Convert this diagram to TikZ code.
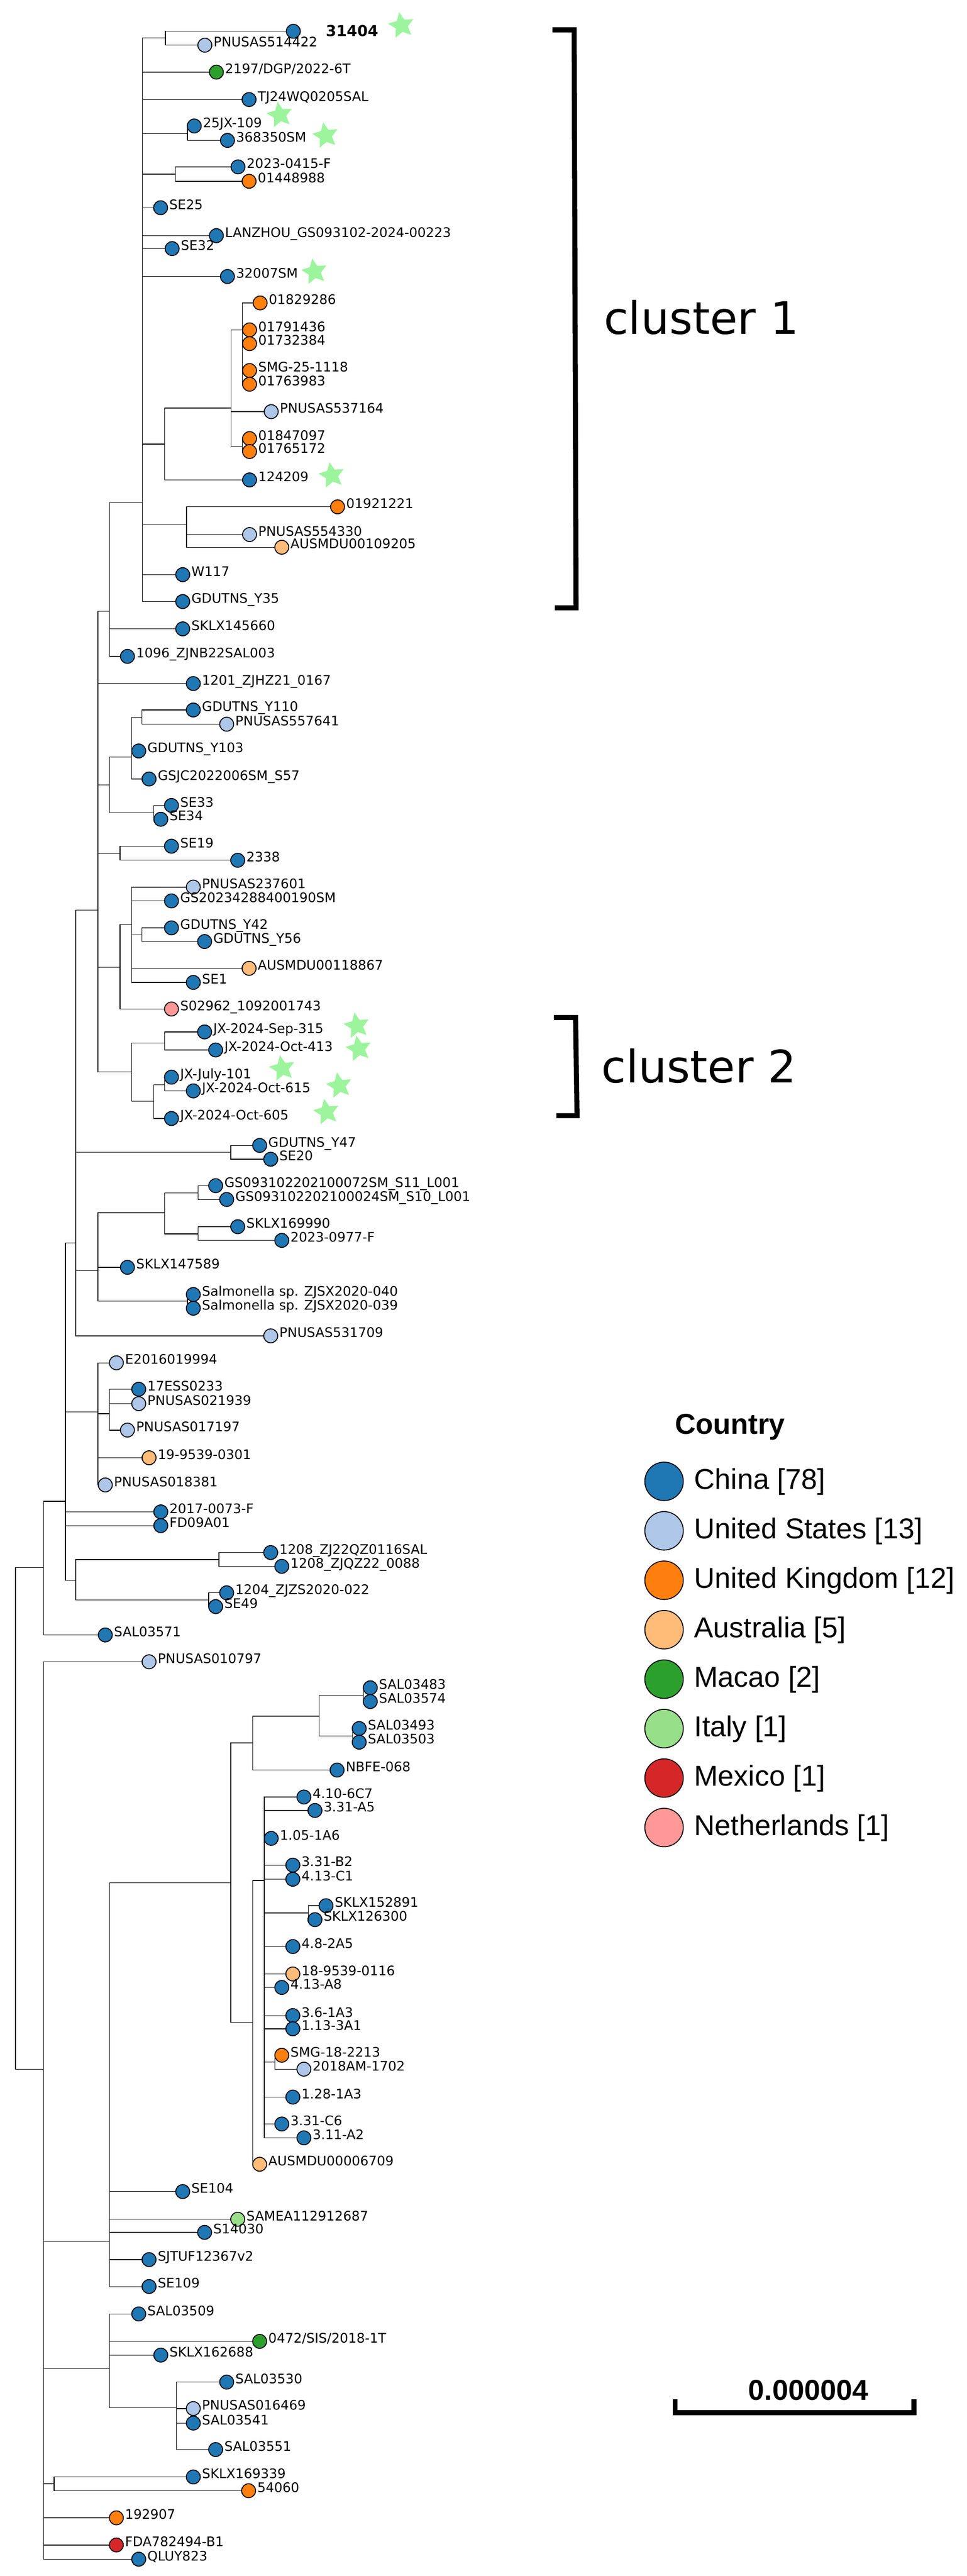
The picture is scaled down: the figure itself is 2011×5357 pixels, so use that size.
\documentclass[tikz,border=0pt]{standalone}
\usepackage{fontspec}
\setmainfont{DejaVu Sans}
\newfontfamily\legfont{Liberation Sans}
\usetikzlibrary{shapes.geometric,backgrounds,positioning}
\definecolor{chinac}{HTML}{1F77B4}
\definecolor{usac}{HTML}{AEC7E8}
\definecolor{ukc}{HTML}{FF7F0E}
\definecolor{ausc}{HTML}{FFBB78}
\definecolor{macaoc}{HTML}{2CA02C}
\definecolor{italyc}{HTML}{98DF8A}
\definecolor{mexicoc}{HTML}{D62728}
\definecolor{nethc}{HTML}{FF9896}
\definecolor{hitc}{HTML}{9CF59C}

\begin{document}
\begin{tikzpicture}[x=0.1mm,y=-0.1mm,
  leaf/.style={circle,draw=black,line width=0.55pt,minimum size=2.9mm,inner sep=0pt},
  cn/.style={leaf,fill=chinac},
  us/.style={leaf,fill=usac},
  uk/.style={leaf,fill=ukc},
  aus/.style={leaf,fill=ausc},
  macao/.style={leaf,fill=macaoc},
  italy/.style={leaf,fill=italyc},
  mexico/.style={leaf,fill=mexicoc},
  neth/.style={leaf,fill=nethc},
  tag/.style={font=\fontsize{7.8}{9}\selectfont,inner sep=0pt,text height=2mm,text depth=0pt,yshift=0.7mm},
  lbl/.style={label={[tag,label distance=0.2mm]0:#1}},
  hit/.style={star,star points=5,star point ratio=2.1,fill=hitc,draw=none,minimum size=5.6mm,inner sep=0pt,rotate=10},
  branch/.style={line width=0.9pt},
  brk/.style={line width=1.05mm},
  legdot/.style={minimum size=8mm},
  legtxt/.style={font=\legfont\fontsize{17}{20}\selectfont,inner sep=0pt,text height=4.3mm,text depth=0pt,yshift=0.55mm},
  big/.style={anchor=base west,inner sep=0pt,font=\fontsize{26.5}{30}\selectfont},
]
\useasboundingbox (0,0) rectangle (2011,5357);

\coordinate (n1) at (296,1045);
\coordinate (n1a) at (344,79);
\coordinate (n1b) at (390,278);
\coordinate (n1c) at (365,362);
\coordinate (n1d) at (342,923.6);
\coordinate (nB) at (480.6,848.5);
\coordinate (nC) at (504,686);
\coordinate (nE) at (504,928);
\coordinate (n1e) at (388,1090);
\coordinate (p2) at (228,1271);
\coordinate (p3) at (203.6,1892.7);
\coordinate (q1) at (228,1632);
\coordinate (q1a) at (274,1574.6);
\coordinate (q1b) at (295.4,1491.8);
\coordinate (q1c) at (320,1690);
\coordinate (q2) at (249.5,1775);
\coordinate (q3) at (249.5,2011.8);
\coordinate (q3a) at (274,1922.3);
\coordinate (q3b) at (295.4,1943.8);
\coordinate (q4) at (274,2229);
\coordinate (q4a) at (342,2169);
\coordinate (q4b) at (320,2290);
\coordinate (q4c) at (342,2256);
\coordinate (p4) at (157.6,2585);
\coordinate (r1) at (480,2396);
\coordinate (r2) at (203.6,2642.7);
\coordinate (r2a) at (342,2522);
\coordinate (r2b) at (411.7,2481);
\coordinate (r2c) at (411.7,2566);
\coordinate (r2d) at (390,2706);
\coordinate (p5) at (136,3122);
\coordinate (s1) at (203.6,2936);
\coordinate (s1a) at (228,2940);
\coordinate (s2) at (157.6,3286.5);
\coordinate (s2a) at (455.4,3243);
\coordinate (s2b) at (434,3327);
\coordinate (p6) at (90.3,3260);
\coordinate (r0) at (32,3781);
\coordinate (t) at (90.3,4303);
\coordinate (t1) at (228,4661);
\coordinate (u) at (480,3915.5);
\coordinate (u1) at (525.8,3624.6);
\coordinate (u1a) at (663.5,3568.7);
\coordinate (u1b) at (756,3525.6);
\coordinate (u1c) at (733,3610);
\coordinate (u2) at (525.8,4206);
\coordinate (u3) at (549.5,3910.7);
\coordinate (v1) at (641,3978);
\coordinate (v2) at (571.7,4288.5);
\coordinate (t2) at (228,4926);
\coordinate (t3) at (366.6,5007.4);
\coordinate (t4) at (112.5,5165);

\node[cn] (s31404) at (610,65) {};
\node[anchor=base west,inner sep=0pt,font=\bfseries\fontsize{8.9}{10}\selectfont] (t31404) at (677,76) {31404};
\node[us,lbl=PNUSAS514422] (pn514422) at (426,94) {};
\node[macao,lbl=2197/DGP/2022-6T] (dgp2197) at (450,150) {};
\node[cn,lbl=TJ24WQ0205SAL] (tj24) at (518,207) {};
\node[cn,lbl=25JX-109] (jx109) at (404,262) {};
\node[cn,lbl=368350SM] (s368350) at (473,292) {};
\node[cn,lbl=2023-0415-F] (f0415) at (495,347) {};
\node[uk,lbl=01448988] (u01448988) at (518,377) {};
\node[cn,lbl=SE25] (se25) at (334,432) {};
\node[cn,lbl=LANZHOU\_GS093102-2024-00223] (lanzhou) at (450,490) {};
\node[cn,lbl=SE32] (se32) at (358,517) {};
\node[cn,lbl=32007SM] (s32007) at (473,575) {};
\node[uk,lbl=01829286] (u01829286) at (541,630) {};
\node[uk,lbl=01791436] (u01791436) at (519,686) {};
\node[uk,lbl=01732384] (u01732384) at (519,714.6) {};
\node[uk,lbl=SMG-25-1118] (smg1118) at (519,770.5) {};
\node[uk,lbl=01763983] (u01763983) at (519,799) {};
\node[us,lbl=PNUSAS537164] (pn537164) at (564,856) {};
\node[uk,lbl=01847097] (u01847097) at (519,912) {};
\node[uk,lbl=01765172] (u01765172) at (519,939) {};
\node[cn,lbl=124209] (s124209) at (519,998) {};
\node[uk,lbl=01921221] (u01921221) at (702,1054) {};
\node[us,lbl=PNUSAS554330] (pn554330) at (519,1111.6) {};
\node[aus,lbl=AUSMDU00109205] (au109205) at (586,1138) {};
\node[cn,lbl=W117] (w117) at (380,1195) {};
\node[cn,lbl=GDUTNS\_Y35] (gdy35) at (380,1251) {};
\node[cn,lbl=SKLX145660] (sklx145660) at (380,1307.7) {};
\node[cn,lbl=1096\_ZJNB22SAL003] (zjnb1096) at (265,1365) {};
\node[cn,lbl=1201\_ZJHZ21\_0167] (zjhz1201) at (402,1421.5) {};
\node[cn,lbl=GDUTNS\_Y110] (gdy110) at (402,1476.5) {};
\node[us,lbl=PNUSAS557641] (pn557641) at (471.4,1506) {};
\node[cn,lbl=GDUTNS\_Y103] (gdy103) at (288.5,1561.7) {};
\node[cn,lbl=GSJC2022006SM\_S57] (gsjc) at (310,1620) {};
\node[cn,lbl=SE33] (se33) at (356.6,1675) {};
\node[cn,lbl=SE34] (se34) at (334.4,1703.7) {};
\node[cn,lbl=SE19] (se19) at (356.6,1759.7) {};
\node[cn,lbl=2338] (s2338) at (494.4,1789) {};
\node[us,lbl=PNUSAS237601] (pn237601) at (402,1844.8) {};
\node[cn,lbl=GS20234288400190SM] (gs0190) at (356.6,1873.5) {};
\node[cn,lbl=GDUTNS\_Y42] (gdy42) at (356.6,1929.5) {};
\node[cn,lbl=GDUTNS\_Y56] (gdy56) at (425.5,1958) {};
\node[aus,lbl=AUSMDU00118867] (au118867) at (518,2013.7) {};
\node[cn,lbl=SE1] (se1) at (402,2043) {};
\node[neth,lbl=S02962\_1092001743] (s02962) at (356.6,2098.3) {};
\node[cn,lbl=JX-2024-Sep-315] (jx315) at (425.5,2146) {};
\node[cn,lbl=JX-2024-Oct-413] (jx413) at (448.5,2183.5) {};
\node[cn,lbl=JX-July-101] (jx101) at (356.6,2240) {};
\node[cn,lbl=JX-2024-Oct-615] (jx615) at (402,2268.6) {};
\node[cn,lbl=JX-2024-Oct-605] (jx605) at (356.6,2326) {};
\node[cn,lbl=GDUTNS\_Y47] (gdy47) at (540,2382) {};
\node[cn,lbl=SE20] (se20) at (563,2410.7) {};
\node[cn,lbl=GS093102202100072SM\_S11\_L001] (gs72) at (448.5,2465.7) {};
\node[cn,lbl=GS093102202100024SM\_S10\_L001] (gs24) at (471.4,2494.4) {};
\node[cn,lbl=SKLX169990] (sklx169990) at (494.4,2551) {};
\node[cn,lbl=2023-0977-F] (f0977) at (586,2579.5) {};
\node[cn,lbl=SKLX147589] (sklx147589) at (265,2635.5) {};
\node[cn,lbl=Salmonella sp. ZJSX2020-040] (zjsx040) at (402,2692) {};
\node[cn,lbl=Salmonella sp. ZJSX2020-039] (zjsx039) at (402,2720.6) {};
\node[us,lbl=PNUSAS531709] (pn531709) at (563,2778) {};
\node[us,lbl=E2016019994] (e2016) at (242,2834) {};
\node[cn,lbl=17ESS0233] (ess0233) at (288.5,2889) {};
\node[us,lbl=PNUSAS021939] (pn021939) at (288.5,2919) {};
\node[us,lbl=PNUSAS017197] (pn017197) at (265,2974) {};
\node[aus,lbl=19-9539-0301] (s9539a) at (310,3031.5) {};
\node[us,lbl=PNUSAS018381] (pn018381) at (219,3088) {};
\node[cn,lbl=2017-0073-F] (f0073) at (334.4,3144) {};
\node[cn,lbl=FD09A01] (fd09) at (334.4,3172.6) {};
\node[cn,lbl=1208\_ZJ22QZ0116SAL] (zj0116) at (563,3228.6) {};
\node[cn,lbl=1208\_ZJQZ22\_0088] (zj0088) at (586,3257.3) {};
\node[cn,lbl=1204\_ZJZS2020-022] (zjzs) at (471.4,3312.3) {};
\node[cn,lbl=SE49] (se49) at (448.5,3341) {};
\node[cn,lbl=SAL03571] (sal3571) at (219,3400) {};
\node[us,lbl=PNUSAS010797] (pn010797) at (310,3455.8) {};
\node[cn,lbl=SAL03483] (sal3483) at (770,3509.8) {};
\node[cn,lbl=SAL03574] (sal3574) at (770,3538.5) {};
\node[cn,lbl=SAL03493] (sal3493) at (747,3594.5) {};
\node[cn,lbl=SAL03503] (sal3503) at (747,3623) {};
\node[cn,lbl=NBFE-068] (nbfe) at (701,3681) {};
\node[cn,lbl=4.10-6C7] (a6c7) at (632,3737) {};
\node[cn,lbl=3.31-A5] (aa5) at (655,3765) {};
\node[cn,lbl=1.05-1A6] (a1a6) at (564,3823) {};
\node[cn,lbl=3.31-B2] (ab2) at (609,3878.6) {};
\node[cn,lbl=4.13-C1] (ac1) at (609,3908) {};
\node[cn,lbl=SKLX152891] (sklx152891) at (678,3963) {};
\node[cn,lbl=SKLX126300] (sklx126300) at (655,3992) {};
\node[cn,lbl=4.8-2A5] (a2a5) at (609,4048) {};
\node[aus,lbl=18-9539-0116] (s9539b) at (609,4105) {};
\node[cn,lbl=4.13-A8] (aa8) at (586,4133) {};
\node[cn,lbl=3.6-1A3] (a1a3) at (609,4191.5) {};
\node[cn,lbl=1.13-3A1] (a3a1) at (609,4219) {};
\node[uk,lbl=SMG-18-2213] (smg2213) at (586,4274) {};
\node[us,lbl=2018AM-1702] (am1702) at (632,4303) {};
\node[cn,lbl=1.28-1A3] (a128) at (609,4361) {};
\node[cn,lbl=3.31-C6] (ac6) at (586,4417) {};
\node[cn,lbl=3.11-A2] (aa2) at (632,4445.8) {};
\node[aus,lbl=AUSMDU00006709] (au6709) at (540,4500.7) {};
\node[cn,lbl=SE104] (se104) at (380,4557.5) {};
\node[italy,lbl=SAMEA112912687] (samea) at (494.4,4615) {};
\node[cn,lbl=S14030] (s14030) at (425.5,4642.4) {};
\node[cn,lbl=SJTUF12367v2] (sjtuf) at (310,4699) {};
\node[cn,lbl=SE109] (se109) at (310,4755) {};
\node[cn,lbl=SAL03509] (sal3509) at (288.5,4812) {};
\node[macao,lbl=0472/SIS/2018-1T] (sis0472) at (540,4869) {};
\node[cn,lbl=SKLX162688] (sklx162688) at (334.4,4897.6) {};
\node[cn,lbl=SAL03530] (sal3530) at (471.4,4953.7) {};
\node[us,lbl=PNUSAS016469] (pn016469) at (402,5008.7) {};
\node[cn,lbl=SAL03541] (sal3541) at (402,5039) {};
\node[cn,lbl=SAL03551] (sal3551) at (448.5,5094) {};
\node[cn,lbl=SKLX169339] (sklx169339) at (402,5151) {};
\node[uk,lbl=54060] (s54060) at (517,5179.6) {};
\node[uk,lbl=192907] (s192907) at (242,5236) {};
\node[mexico,lbl=FDA782494-B1] (fda) at (242,5292.5) {};
\node[cn,lbl=QLUY823] (qluy) at (288.5,5322) {};

\begin{scope}[on background layer,branch]
  \draw (n1a) |- (s31404.center) (n1a) |- (pn514422.center);
  \draw (n1b) |- (jx109.center) (n1b) |- (s368350.center);
  \draw (n1c) |- (f0415.center) (n1c) |- (u01448988.center);
  \draw (nC) |- (u01829286.center) (nC) |- (u01791436.center) (nC) |- (u01732384.center)
        (nC) |- (smg1118.center) (nC) |- (u01763983.center);
  \draw (nE) |- (u01847097.center) (nE) |- (u01765172.center);
  \draw (nB) |- (nC) (nB) |- (pn537164.center) (nB) |- (nE);
  \draw (n1d) |- (nB) (n1d) |- (s124209.center);
  \draw (n1e) |- (u01921221.center) (n1e) |- (pn554330.center) (n1e) |- (au109205.center);
  \draw (n1) |- (n1a) (n1) |- (dgp2197.center) (n1) |- (tj24.center) (n1) |- (n1b)
        (n1) |- (n1c) (n1) |- (se25.center) (n1) |- (lanzhou.center) (n1) |- (se32.center)
        (n1) |- (s32007.center) (n1) |- (n1d) (n1) |- (n1e) (n1) |- (w117.center)
        (n1) |- (gdy35.center);
  \draw (p2) |- (n1) (p2) |- (sklx145660.center) (p2) |- (zjnb1096.center);
  \draw (q1b) |- (gdy110.center) (q1b) |- (pn557641.center);
  \draw (q1a) |- (q1b) (q1a) |- (gdy103.center) (q1a) |- (gsjc.center);
  \draw (q1c) |- (se33.center) (q1c) |- (se34.center);
  \draw (q1) |- (q1a) (q1) |- (q1c);
  \draw (q2) |- (se19.center) (q2) |- (s2338.center);
  \draw (q3b) |- (gdy42.center) (q3b) |- (gdy56.center);
  \draw (q3a) |- (pn237601.center) (q3a) |- (gs0190.center) (q3a) |- (q3b)
        (q3a) |- (au118867.center) (q3a) |- (se1.center);
  \draw (q3) |- (q3a) (q3) |- (s02962.center);
  \draw (q4a) |- (jx315.center) (q4a) |- (jx413.center);
  \draw (q4c) |- (jx101.center) (q4c) |- (jx615.center);
  \draw (q4b) |- (q4c) (q4b) |- (jx605.center);
  \draw (q4) |- (q4a) (q4) |- (q4b);
  \draw (p3) |- (p2) (p3) |- (zjhz1201.center) (p3) |- (q1) (p3) |- (q2) (p3) |- (q3) (p3) |- (q4);
  \draw (r1) |- (gdy47.center) (r1) |- (se20.center);
  \draw (r2b) |- (gs72.center) (r2b) |- (gs24.center);
  \draw (r2c) |- (sklx169990.center) (r2c) |- (f0977.center);
  \draw (r2a) |- (r2b) (r2a) |- (r2c);
  \draw (r2d) |- (zjsx040.center) (r2d) |- (zjsx039.center);
  \draw (r2) |- (r2a) (r2) |- (sklx147589.center) (r2) |- (r2d);
  \draw (p4) |- (p3) (p4) |- (r1) (p4) |- (r2) (p4) |- (pn531709.center);
  \draw (s1a) |- (ess0233.center) (s1a) |- (pn021939.center) (s1a) |- (pn017197.center);
  \draw (s1) |- (e2016.center) (s1) |- (s1a) (s1) |- (s9539a.center) (s1) |- (pn018381.center);
  \draw (s2a) |- (zj0116.center) (s2a) |- (zj0088.center);
  \draw (s2b) |- (zjzs.center) (s2b) |- (se49.center);
  \draw (s2) |- (s2a) (s2) |- (s2b);
  \draw (p5) |- (p4) (p5) |- (s1) (p5) |- (f0073.center) (p5) |- (fd09.center) (p5) |- (s2);
  \draw (p6) |- (p5) (p6) |- (sal3571.center);
  \draw (u1b) |- (sal3483.center) (u1b) |- (sal3574.center);
  \draw (u1c) |- (sal3493.center) (u1c) |- (sal3503.center);
  \draw (u1a) |- (u1b) (u1a) |- (u1c);
  \draw (u1) |- (u1a) (u1) |- (nbfe.center);
  \draw (v1) |- (sklx152891.center) (v1) |- (sklx126300.center);
  \draw (v2) |- (smg2213.center) (v2) |- (am1702.center);
  \draw (u3) |- (a6c7.center) (u3) |- (aa5.center) (u3) |- (a1a6.center) (u3) |- (ab2.center)
        (u3) |- (ac1.center) (u3) |- (v1) (u3) |- (a2a5.center) (u3) |- (s9539b.center)
        (u3) |- (aa8.center) (u3) |- (a1a3.center) (u3) |- (a3a1.center) (u3) |- (v2)
        (u3) |- (a128.center) (u3) |- (ac6.center) (u3) |- (aa2.center);
  \draw (u2) |- (u3) (u2) |- (au6709.center);
  \draw (u) |- (u1) (u) |- (u2);
  \draw (t1) |- (u) (t1) |- (se104.center) (t1) |- (samea.center) (t1) |- (s14030.center)
        (t1) |- (sjtuf.center) (t1) |- (se109.center);
  \draw (t3) |- (sal3530.center) (t3) |- (pn016469.center) (t3) |- (sal3541.center) (t3) |- (sal3551.center);
  \draw (t2) |- (sal3509.center) (t2) |- (sis0472.center) (t2) |- (sklx162688.center) (t2) |- (t3);
  \draw (t4) |- (sklx169339.center) (t4) |- (s54060.center);
  \draw (t) |- (pn010797.center) (t) |- (t1) (t) |- (t2) (t) |- (t4)
        (t) |- (s192907.center) (t) |- (fda.center) (t) |- (qluy.center);
  \draw (r0) |- (p6) (r0) |- (t);
\end{scope}

\node[hit] (h31404) at (835,53) {};
\node[hit] (h109) at (582,239) {};
\node[hit] (h368350) at (677,282) {};
\node[hit] (h32007) at (654,565) {};
\node[hit] (h124209) at (690,988.6) {};
\node[hit] (h315) at (742,2133) {};
\node[hit] (h413) at (746,2181) {};
\node[hit] (h101) at (587,2222) {};
\node[hit] (h615) at (705.6,2257.6) {};
\node[hit] (h605) at (679,2312.6) {};

\draw[brk] (1149,62) -- (1194,62) -- (1198,1264) -- (1154,1264);
\node[big] (cl1) at (1255,695) {cluster 1};
\draw[brk] (1152,2116) -- (1197,2116) -- (1200,2320) -- (1157,2320);
\node[big] (cl2) at (1250,2252) {cluster 2};

\node[anchor=base west,inner sep=0pt,font=\legfont\bfseries\fontsize{17}{20}\selectfont] (ctitle) at (1403,2982) {Country};
\node[cn,legdot] (kchina) at (1381,3080.6) {};
\node[us,legdot,below=2.09mm of kchina] (kusa) {};
\node[uk,legdot,below=2.09mm of kusa] (kuk) {};
\node[aus,legdot,below=2.09mm of kuk] (kaus) {};
\node[macao,legdot,below=2.09mm of kaus] (kmacao) {};
\node[italy,legdot,below=2.09mm of kmacao] (kitaly) {};
\node[mexico,legdot,below=2.09mm of kitaly] (kmexico) {};
\node[neth,legdot,below=2.09mm of kmexico] (kneth) {};
\node[legtxt,right=6.2mm of kchina.center] (tchina) {China [78]};
\node[legtxt,right=6.2mm of kusa.center] (tusa) {United States [13]};
\node[legtxt,right=6.2mm of kuk.center] (tuk) {United Kingdom [12]};
\node[legtxt,right=6.2mm of kaus.center] (taus) {Australia [5]};
\node[legtxt,right=6.2mm of kmacao.center] (tmacao) {Macao [2]};
\node[legtxt,right=6.2mm of kitaly.center] (titaly) {Italy [1]};
\node[legtxt,right=6.2mm of kmexico.center] (tmexico) {Mexico [1]};
\node[legtxt,right=6.2mm of kneth.center] (tneth) {Netherlands [1]};

\draw[brk] (1404,4989) -- (1404,5017) -- (1901,5017) -- (1901,4989);
\node[anchor=base west,inner sep=0pt,font=\legfont\bfseries\fontsize{17}{20}\selectfont] (scl) at (1556,4991) {0.000004};
\end{tikzpicture}
\end{document}
